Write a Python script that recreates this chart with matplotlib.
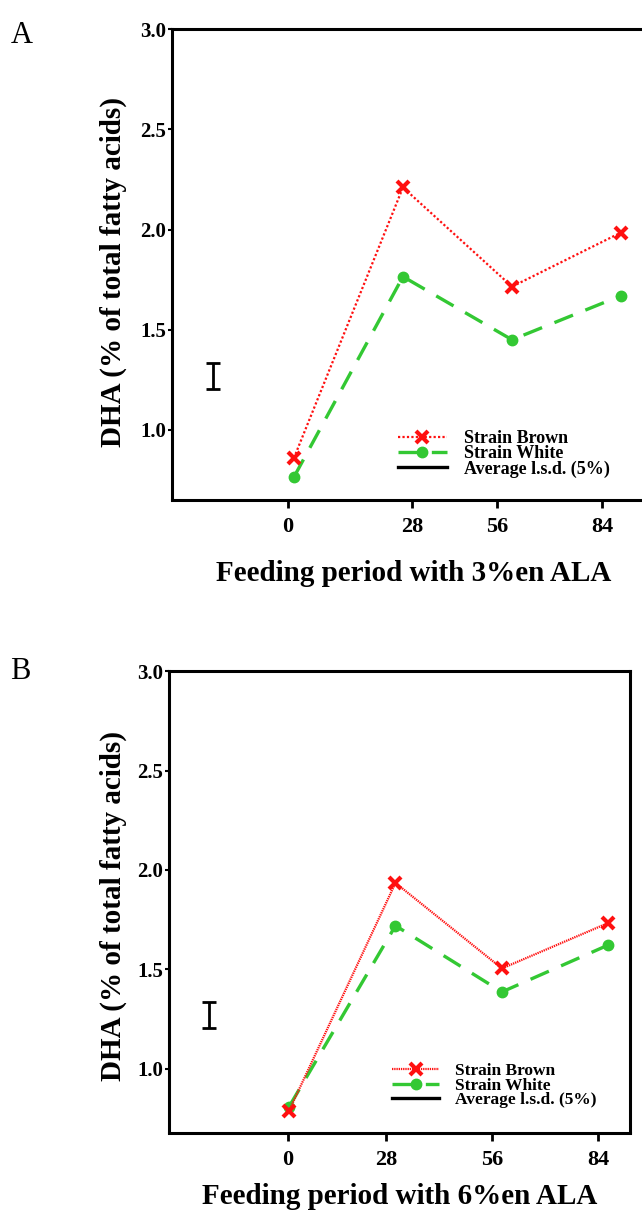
import matplotlib
matplotlib.use("Agg")
import matplotlib.pyplot as plt
from matplotlib.lines import Line2D

plt.rcParams['font.family'] = ['Liberation Serif', 'DejaVu Serif']
plt.rcParams['font.weight'] = 'bold'
plt.rcParams['axes.labelweight'] = 'bold'

# data
days = [0, 28, 56, 84]
day_labels = ["0", "28", "56", "84"]
brown_a = [0.86, 2.21, 1.715, 1.985]
white_a = [0.765, 1.765, 1.45, 1.67]
brown_b = [0.79, 1.935, 1.505, 1.734]
white_b = [0.81, 1.72, 1.387, 1.623]
lsd_center = 1.27
lsd_half = 0.065
yticks = [1.0, 1.5, 2.0, 2.5, 3.0]

# tick marks in the original sit a bit off the data positions
tick_pos_a = [-1.5, 30.3, 52.1, 79.1]
tick_pos_b = [-0.3, 25.5, 53.4, 81.3]

RED = '#ff1010'
GREEN = '#33c833'

fig = plt.figure(figsize=(6.42, 12.14), dpi=100)

def panel(rect, xlim, ylim, brown, white, ticks, xlabel, red_ls, leg_anchor, leg_fs, lsd_x):
    ax = fig.add_axes(rect)
    ax.plot(days, brown, color=RED, ls=red_ls, lw=1.6, marker='x', ms=8, mew=3,
            label='Strain Brown', zorder=3)
    ax.plot(days, white, color=GREEN, ls=(0, (6, 4)), lw=2.4, marker='o', ms=7.5,
            label='Strain White', zorder=2)
    ax.errorbar([lsd_x], [lsd_center], yerr=[lsd_half], color='black', lw=2,
                capsize=5, capthick=2, fmt='none')
    handles, labels = ax.get_legend_handles_labels()
    handles.append(Line2D([], [], color='black', lw=2.4))
    labels.append('Average l.s.d. (5%)')
    ax.legend(handles, labels, loc='lower left', bbox_to_anchor=leg_anchor,
              frameon=False, fontsize=leg_fs, borderpad=0, borderaxespad=0,
              labelspacing=-0.1, handlelength=2.7, handletextpad=0.95,
              numpoints=1)
    ax.set_xlim(*xlim)
    ax.set_ylim(*ylim)
    ax.set_xticks(ticks)
    ax.set_xticklabels(day_labels)
    ax.set_yticks(yticks)
    ax.set_yticklabels([f"{v:.1f}" for v in yticks])
    ax.tick_params(axis='x', direction='out', length=6, width=2, pad=6,
                   labelsize=16)
    ax.tick_params(axis='y', direction='out', length=3, width=1.5, pad=1,
                   labelsize=15)
    for s in ax.spines.values():
        s.set_linewidth(2.2)
    ax.spines['bottom'].set_position(('outward', 1))
    ax.set_ylabel('DHA (% of total fatty acids)', fontsize=21)
    ax.set_xlabel(xlabel, fontsize=21)
    return ax

ax_a = panel([0.2679, 0.5890, 0.7523, 0.3871], (-31.3, 92.7), (0.656, 3.0),
             brown_a, white_a, tick_pos_a, 'Feeding period with 3%en ALA',
             (0, (1, 1)), (0.468, 0.045), 13, -20.8)
ax_a.yaxis.set_label_coords(-0.093, 0.483)
ax_a.xaxis.set_label_coords(0.5, -0.13)

ax_b = panel([0.2632, 0.06755, 0.7181, 0.3797], (-31.6, 89.7), (0.683, 3.0),
             brown_b, white_b, tick_pos_b, 'Feeding period with 6%en ALA',
             (0, (0.6, 0.4)), (0.484, 0.052), 12.5, -21.0)
ax_b.yaxis.set_label_coords(-0.091, 0.49)
ax_b.xaxis.set_label_coords(0.5, -0.11)

fig.text(0.016, 0.9705, 'A', fontsize=22, fontweight='normal', va='center')
fig.text(0.016, 0.4465, 'B', fontsize=22, fontweight='normal', va='center')

fig.savefig('out.png', dpi=100)
